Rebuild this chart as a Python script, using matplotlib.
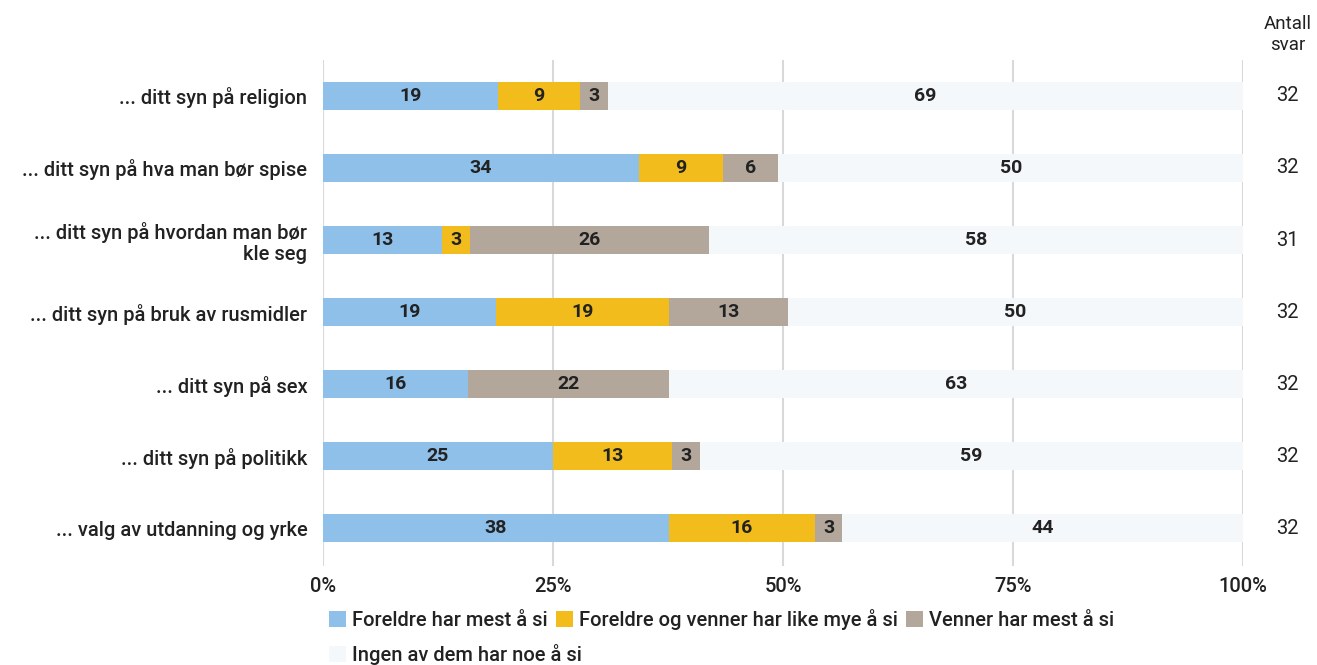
import matplotlib.pyplot as plt
import numpy as np
from matplotlib.patches import Patch

plt.rcParams['font.family'] = ['Roboto', 'DejaVu Sans']

# Survey: who has most to say about ...
categories = [
    '... ditt syn på religion',
    '... ditt syn på hva man bør spise',
    '... ditt syn på hvordan man bør\nkle seg',
    '... ditt syn på bruk av rusmidler',
    '... ditt syn på sex',
    '... ditt syn på politikk',
    '... valg av utdanning og yrke',
]
foreldre = [19, 34, 13, 19, 16, 25, 38]
begge = [9, 9, 3, 19, 0, 13, 16]
venner = [3, 6, 26, 13, 22, 3, 3]
ingen = [69, 50, 58, 50, 63, 59, 44]
antall_svar = [32, 32, 31, 32, 32, 32, 32]

series_names = ['Foreldre har mest å si', 'Foreldre og venner har like mye å si',
                'Venner har mest å si', 'Ingen av dem har noe å si']
colors = ['#8fc0ea', '#f2bd1c', '#b3a79c', '#f4f8fb']
text_color = '#222222'
fs = 14.5

fig = plt.figure(figsize=(13.17, 6.65), dpi=100)
ax = fig.add_axes([0.245, 0.149, 0.699, 0.761])

series = np.array([foreldre, begge, venner, ingen], dtype=float)
# rounded shares don't always add to 100, so scale each row to its total
totals = series.sum(axis=0)

y = np.arange(len(categories))
left = np.zeros(len(categories))
for vals, color in zip(series, colors):
    widths = vals / totals * 100
    ax.barh(y, widths, left=left, height=0.39, color=color, zorder=2)
    for yi, l, w, v in zip(y, left, widths, vals):
        if v > 0:
            ax.text(l + w / 2, yi, f'{int(v)}', ha='center', va='center',
                    fontsize=14, fontweight='bold', color=text_color, zorder=3)
    left += widths

ax.set_xlim(0, 100)
ax.set_ylim(len(categories) - 0.48, -0.5)
ax.set_xticks([0, 25, 50, 75, 100])
ax.set_xticklabels(['0%', '25%', '50%', '75%', '100%'])
ax.set_yticks(y)
ax.set_yticklabels(categories, linespacing=1.1)
ax.tick_params(axis='both', length=0, labelsize=fs, labelcolor=text_color)
ax.tick_params(axis='y', pad=11)
ax.tick_params(axis='x', pad=8)
for lbl in ax.get_yticklabels() + ax.get_xticklabels():
    lbl.set_fontweight('medium')
ax.grid(axis='x', color='#d9d9d9', linewidth=1.5, zorder=0)
ax.set_axisbelow(True)
for s in ax.spines.values():
    s.set_visible(False)

# Number of responses column
for yi, n in zip(y, antall_svar):
    ax.text(1.048, yi, str(n), transform=ax.get_yaxis_transform(), ha='center',
            va='center', fontsize=fs, color=text_color)
fig.text(0.978, 0.948, 'Antall\nsvar', ha='center', va='center', fontsize=13.5,
         color=text_color, linespacing=1.25)

handles = [Patch(facecolor=c, edgecolor='none') for c in colors]
leg_kw = dict(frameon=False, handlelength=0.85, handleheight=0.85,
              handletextpad=0.3, prop={'size': fs, 'weight': 'medium'})
leg1 = fig.legend(handles[:3], series_names[:3], loc='center left',
                  bbox_to_anchor=(0.236, 0.068), ncol=3, columnspacing=0.4,
                  **leg_kw)
leg2 = fig.legend(handles[3:], series_names[3:], loc='center left',
                  bbox_to_anchor=(0.236, 0.016), **leg_kw)
for leg in (leg1, leg2):
    for t in leg.get_texts():
        t.set_color(text_color)

fig.savefig('out.png', dpi=100, facecolor='white')
